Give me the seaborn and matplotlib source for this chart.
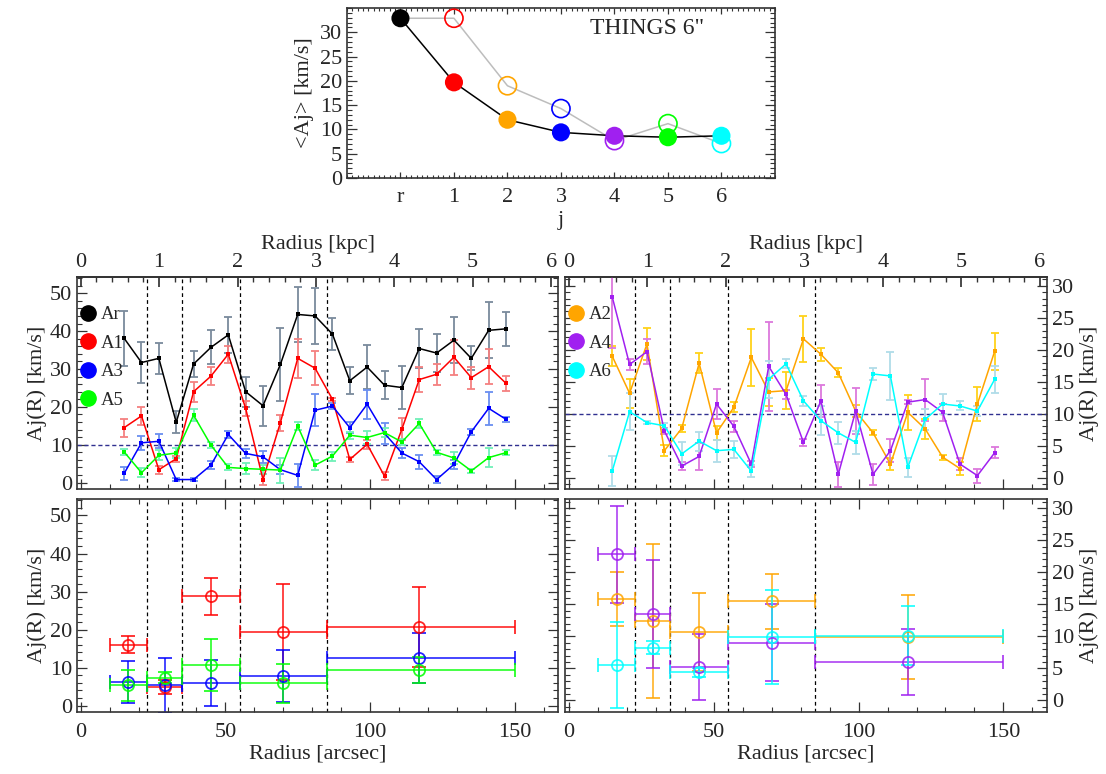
"""
Amplitude profiles Aj(R) per harmonic order, THINGS 6" data.
"""

import numpy as np
import pandas as pd
import matplotlib
matplotlib.use('Agg')
import matplotlib.pyplot as plt
from matplotlib.lines import Line2D
from matplotlib.ticker import MultipleLocator
import seaborn as sns

# ── DATA ──────────────────────────────────────────────────────────────────────
J_LABELS = ["r", "1", "2", "3", "4", "5", "6"]
J_COLORS = ["black", "red", "orange", "blue", "#a020f0", "#00ff00", "cyan"]
MEAN_FILLED = [32.9, 19.7, 12.0, 9.4, 8.7, 8.4, 8.7]
MEAN_OPEN = [32.9, 32.9, 19.0, 14.3, 7.7, 11.2, 7.1]

RADIUS_ARCSEC = [15, 21, 27, 33, 39, 45, 51, 57, 63, 69, 75, 81,
                 87, 93, 99, 105, 111, 117, 123, 129, 135, 141, 147]
ARCSEC_PER_KPC = 27.1

A_R = [38.1, 31.7, 32.8, 15.9, 31.3, 35.7, 39.0, 24.0, 20.3, 31.2, 44.4, 44.0,
       39.2, 26.9, 30.5, 25.7, 25.1, 35.4, 34.2, 37.6, 32.8, 40.2, 40.6]
E_R = [7.2, 5.4, 4.0, 2.9, 3.5, 4.5, 4.8, 4.0, 5.3, 9.6, 7.3, 7.4,
       4.2, 3.5, 5.9, 3.7, 5.6, 5.2, 5.0, 6.1, 3.2, 7.4, 4.5]
A_1 = [14.5, 17.6, 3.4, 6.3, 24.0, 28.1, 33.9, 19.6, 0.8, 15.8, 32.8, 30.2,
       22.0, 6.1, 10.1, 1.7, 14.1, 27.2, 28.6, 33.1, 27.7, 30.6, 26.2]
E_1 = [2.4, 2.3, 1.1, 0.8, 2.6, 2.4, 2.2, 2.0, 1.5, 2.1, 5.1, 4.5,
       0.4, 0.6, 1.2, 1.0, 2.9, 3.4, 2.8, 4.6, 2.9, 4.6, 2.0]
A_3 = [2.4, 10.5, 10.9, 0.8, 0.8, 4.6, 12.7, 7.7, 6.8, 3.4, 1.9, 19.1,
       20.2, 14.5, 20.7, 13.0, 7.8, 5.5, 0.8, 4.8, 13.4, 19.6, 16.7]
E_3 = [1.7, 1.9, 1.8, 0.4, 0.5, 1.1, 0.8, 1.2, 1.5, 1.2, 3.0, 4.2,
       0.7, 1.5, 3.8, 2.8, 1.2, 1.9, 1.0, 1.2, 0.8, 4.4, 0.6]
A_5 = [8.1, 2.6, 7.2, 7.8, 17.8, 9.9, 4.0, 3.7, 3.5, 3.3, 14.9, 4.6,
       7.0, 12.5, 11.9, 13.2, 10.7, 15.6, 8.0, 6.5, 3.1, 6.6, 7.9]
E_5 = [0.8, 1.2, 1.3, 1.2, 1.5, 0.7, 0.8, 1.5, 1.2, 3.3, 1.1, 1.4,
       1.2, 0.9, 1.8, 1.2, 0.8, 1.3, 0.7, 1.5, 0.5, 2.6, 0.7]

A_2 = [19.0, 13.2, 20.9, 4.2, 7.7, 17.9, 7.0, 11.0, 18.8, 13.4, 13.6, 21.7,
       19.3, 16.4, 10.4, 7.0, 2.1, 10.2, 7.6, 3.2, 1.4, 11.5, 19.8]
E_2 = [1.6, 2.3, 2.5, 0.9, 0.5, 1.6, 1.1, 0.8, 4.4, 2.2, 2.9, 3.6,
       1.0, 0.7, 1.0, 0.4, 0.9, 2.7, 1.5, 0.4, 1.0, 2.7, 2.9]
A_4 = [28.3, 17.7, 19.7, 7.3, 1.8, 3.3, 11.5, 8.0, 2.1, 17.4, 13.0, 5.5,
       12.0, 0.5, 10.4, 0.5, 4.2, 11.8, 12.2, 10.2, 2.1, 0.3, 3.9]
E_4 = [8.0, 0.8, 2.0, 0.5, 0.7, 2.1, 2.4, 0.8, 0.5, 7.0, 0.7, 0.5,
       2.5, 2.0, 3.6, 1.6, 1.8, 0.3, 3.3, 1.3, 0.9, 1.1, 0.8]
A_6 = [1.0, 10.3, 8.6, 8.1, 3.7, 5.7, 4.2, 4.4, 1.0, 15.4, 17.8, 12.0,
       8.9, 7.0, 5.5, 16.2, 15.9, 1.6, 9.1, 11.5, 11.2, 10.4, 15.4]
E_6 = [2.3, 2.9, 0.3, 0.5, 1.8, 1.5, 1.7, 1.3, 0.9, 2.9, 0.7, 0.8,
       2.3, 1.7, 1.8, 0.9, 3.8, 1.5, 1.6, 1.6, 0.7, 0.8, 2.1]

# ring-averaged values (bottom panels)
RING_EDGES = [23, 35, 55, 85]
BIN_LO = [10, 23, 35, 55, 85]
BIN_HI = [23, 35, 55, 85, 150]
BIN_CENTER = [16.5, 29, 45, 70, 117]
RING_A1 = [16.0, 4.9, 28.7, 19.4, 20.7]
RING_E1 = [2.3, 1.9, 4.9, 12.6, 10.6]
RING_A3 = [6.2, 5.3, 6.0, 7.8, 12.5]
RING_E3 = [5.5, 7.3, 6.0, 6.8, 6.7]
RING_A5 = [5.3, 7.3, 10.6, 5.9, 9.3]
RING_E5 = [4.0, 1.4, 6.9, 5.1, 3.4]
RING_A2 = [15.8, 12.4, 10.7, 15.5, 9.9]
RING_E2 = [4.2, 12.0, 6.1, 4.3, 6.5]
RING_A4 = [22.8, 13.5, 5.2, 9.0, 6.0]
RING_E4 = [7.6, 8.4, 5.1, 6.0, 5.1]
RING_A6 = [5.5, 8.2, 4.4, 9.9, 10.1]
RING_E6 = [6.7, 1.0, 0.7, 7.3, 4.6]

# ── STYLE ─────────────────────────────────────────────────────────────────────
sns.set_theme(style="ticks")
plt.rcParams['font.family'] = ['Liberation Serif', 'DejaVu Serif']
FS = 16

COL = {"Ar": "black", "A1": "red", "A2": "orange", "A3": "blue",
       "A4": "#a020f0", "A5": "#00ff00", "A6": "cyan"}
ECOL = {"Ar": "#7a8a9c", "A1": "#f48080", "A2": "#ffd21a", "A3": "#6a8ff0",
        "A4": "#dc78dc", "A5": "#70f0b8", "A6": "#b0dce8"}


def idl_ticks(ax, top=True):
    ax.tick_params(which='both', direction='in', left=True, right=True,
                   bottom=True, top=top, labelsize=FS, color='#333333')
    ax.tick_params(which='major', length=7, width=0.9)
    ax.tick_params(which='minor', length=3.5, width=0.8)
    for s in ax.spines.values():
        s.set_linewidth(1.2)
        s.set_color('#333333')


def add_kpc_axis(ax):
    sec = ax.secondary_xaxis('top', functions=(lambda a: a / ARCSEC_PER_KPC,
                                               lambda k: k * ARCSEC_PER_KPC))
    sec.set_xticks(range(7))
    sec.xaxis.set_minor_locator(MultipleLocator(0.2))
    sec.tick_params(which='both', direction='in', labelsize=FS, color='#333333')
    sec.tick_params(which='major', length=7)
    sec.tick_params(which='minor', length=3.5)
    sec.set_xlabel('Radius [kpc]', fontsize=FS, labelpad=3)


def draw_profiles(ax, names, values, errors):
    for n, v, e in zip(names, values, errors):
        ax.errorbar(RADIUS_ARCSEC, v, yerr=e, fmt='none', ecolor=ECOL[n],
                    elinewidth=1.3, capsize=3, capthick=1.3, zorder=2)
    df = pd.DataFrame({
        'r': np.tile(RADIUS_ARCSEC, len(names)),
        'A': np.concatenate(values),
        'comp': np.repeat(names, len(RADIUS_ARCSEC)),
    })
    sns.lineplot(data=df, x='r', y='A', hue='comp', hue_order=names,
                 palette=[COL[n] for n in names], estimator=None, lw=1.1,
                 marker='s', markersize=2.5, markeredgewidth=0, legend=False,
                 ax=ax, zorder=3)
    ax.axhline(10, color='#303090', ls=(0, (3, 2)), lw=1.0, zorder=1)


def draw_rings(ax, names, values, errors):
    xlo = np.array(BIN_CENTER) - np.array(BIN_LO)
    xhi = np.array(BIN_HI) - np.array(BIN_CENTER)
    for n, v, e in zip(names, values, errors):
        ax.errorbar(BIN_CENTER, v, yerr=e, xerr=[xlo, xhi], fmt='o', ms=8,
                    mfc='none', mec=COL[n], mew=1.3, ecolor=COL[n],
                    elinewidth=1.2, capsize=5, capthick=1.2, alpha=0.85)


def ring_lines(ax):
    for x in RING_EDGES:
        ax.axvline(x, color='black', ls=(0, (3, 2.5)), lw=0.9, zorder=0)


def legend_dots(ax, names):
    handles = [Line2D([], [], ls='none', marker='o', ms=11, color=COL[n])
               for n in names]
    ax.legend(handles, names, loc='upper left', frameon=False, fontsize=13.5,
              handletextpad=0.2, labelspacing=0.6, borderaxespad=0.0,
              handlelength=1.0, bbox_to_anchor=(-0.012, 0.897))


fig = plt.figure(figsize=(11.06, 7.74), dpi=100)

# ── TOP PANEL: <Aj> ───────────────────────────────────────────────────────────
ax0 = fig.add_axes([0.3137, 0.770, 0.387, 0.2196])
jpos = np.arange(len(J_LABELS))
sns.lineplot(x=jpos, y=MEAN_OPEN, color='#bdbdbd', lw=1.1, ax=ax0, zorder=1)
sns.lineplot(x=jpos, y=MEAN_FILLED, color='black', lw=1.1, ax=ax0, zorder=2)
ax0.scatter(jpos[1:], MEAN_OPEN[1:], s=170, facecolors='none',
            edgecolors=J_COLORS[1:], linewidths=1.2, zorder=3)
sns.scatterplot(x=jpos, y=MEAN_FILLED, hue=J_LABELS, palette=J_COLORS,
                s=170, linewidth=0, legend=False, ax=ax0, zorder=4)
ax0.set_xlim(-1, 7)
ax0.set_ylim(0, 35)
ax0.set_xticks(jpos)
ax0.set_xticklabels(J_LABELS)
ax0.xaxis.set_minor_locator(MultipleLocator(0.1))
ax0.set_yticks(range(0, 31, 5))
ax0.yaxis.set_minor_locator(MultipleLocator(1))
idl_ticks(ax0)
ax0.tick_params(axis='x', which='major', length=4, pad=7)
ax0.tick_params(axis='x', which='minor', length=2.5)
ax0.set_xlabel('j', fontsize=FS, labelpad=3)
ax0.set_ylabel('<Aj> [km/s]', fontsize=FS)
ax0.text(3.55, 30.8, 'THINGS 6"', fontsize=FS + 1, va='center', ha='left')

# ── MIDDLE PANELS: Aj(R) profiles ─────────────────────────────────────────────
left_names = ["Ar", "A1", "A3", "A5"]
right_names = ["A2", "A4", "A6"]

ax1 = fig.add_axes([0.0696, 0.3682, 0.4350, 0.274])
ring_lines(ax1)
draw_profiles(ax1, left_names, [A_R, A_1, A_3, A_5], [E_R, E_1, E_3, E_5])
legend_dots(ax1, left_names)

ax2 = fig.add_axes([0.5108, 0.3682, 0.4358, 0.274])
ring_lines(ax2)
draw_profiles(ax2, right_names, [A_2, A_4, A_6], [E_2, E_4, E_6])
legend_dots(ax2, right_names)

# ── BOTTOM PANELS: ring averages ──────────────────────────────────────────────
ax3 = fig.add_axes([0.0696, 0.0801, 0.4350, 0.275])
ring_lines(ax3)
draw_rings(ax3, ["A1", "A3", "A5"], [RING_A1, RING_A3, RING_A5],
           [RING_E1, RING_E3, RING_E5])

ax4 = fig.add_axes([0.5108, 0.0801, 0.4358, 0.275])
ring_lines(ax4)
draw_rings(ax4, ["A2", "A4", "A6"], [RING_A2, RING_A4, RING_A6],
           [RING_E2, RING_E4, RING_E6])

for ax in (ax1, ax2, ax3, ax4):
    ax.set_xlim(-1.3, 165)
    ax.set_xticks([0, 50, 100, 150])
    ax.xaxis.set_minor_locator(MultipleLocator(10))
    ax.set_xlabel('')
    ax.set_ylabel('')

for ax in (ax1, ax3):
    ax.set_ylim(-1.7, 54.3)
    ax.set_yticks(range(0, 51, 10))
    ax.yaxis.set_minor_locator(MultipleLocator(2))
    ax.set_ylabel('Aj(R) [km/s]', fontsize=FS, labelpad=2)

for ax in (ax2, ax4):
    ax.set_ylim(-1.8, 31.4)
    ax.set_yticks(range(0, 31, 5))
    ax.yaxis.set_minor_locator(MultipleLocator(1))
    ax.yaxis.set_label_position('right')
    ax.set_ylabel('Aj(R) [km/s]', fontsize=FS, labelpad=4)

for ax in (ax1, ax2):
    idl_ticks(ax, top=False)
    ax.tick_params(labelbottom=False)
    add_kpc_axis(ax)

for ax in (ax3, ax4):
    idl_ticks(ax, top=True)
    ax.tick_params(axis='x', pad=8)
    ax.set_xlabel('Radius [arcsec]', fontsize=FS, labelpad=2)

for ax in (ax2, ax4):
    ax.tick_params(labelleft=False, labelright=True)

fig.savefig('out.png', dpi=100)
plt.close(fig)
